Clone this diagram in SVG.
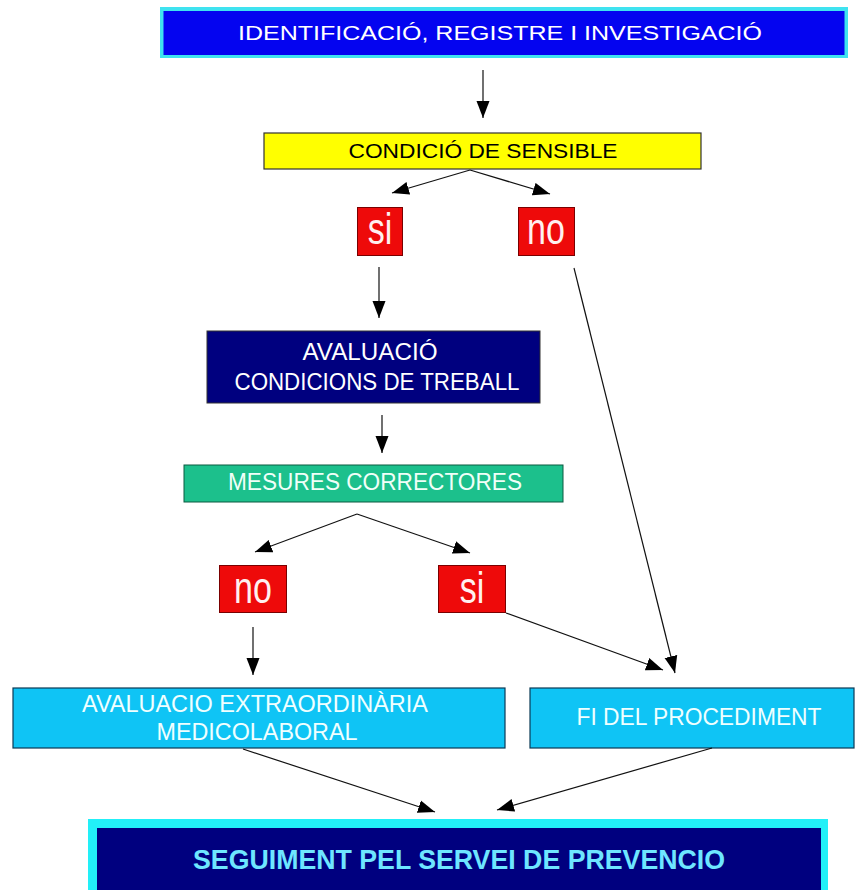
<svg xmlns="http://www.w3.org/2000/svg" width="858" height="890" viewBox="0 0 858 890">
<defs>
<marker id="ah" markerUnits="userSpaceOnUse" markerWidth="18" markerHeight="14" refX="17" refY="7" orient="auto">
<path d="M0,0.5 L17,7 L0,13.5 Z" fill="#000"/>
</marker>
<style>
.t{font-family:"Liberation Sans",Arial,sans-serif;text-anchor:middle}
.c{fill:none;stroke:#111;stroke-width:1.2;marker-end:url(#ah)}
.red{fill:#EE0A0A;stroke:#7a0000;stroke-width:1}
.sky{fill:#0FC4F5;stroke:#0a3a55;stroke-width:1.2}
.yn{font-size:34px;fill:#fff0f0}
</style>
</defs>
<rect width="858" height="890" fill="#fff"/>

<g id="identificacio">
<rect x="160" y="7" width="688" height="51" fill="#3FE3F0"/>
<rect x="163.5" y="11" width="681" height="44" fill="#0404F0"/>
<text class="t" x="500" y="40" font-size="20" fill="#fff" textLength="524" lengthAdjust="spacingAndGlyphs">IDENTIFICACIÓ, REGISTRE I INVESTIGACIÓ</text>
</g>

<g id="condicio">
<rect x="264" y="133" width="437" height="36" fill="#FFFF00" stroke="#333" stroke-width="1.2"/>
<text class="t" x="483" y="158" font-size="20" fill="#000" textLength="269" lengthAdjust="spacingAndGlyphs">CONDICIÓ DE SENSIBLE</text>
</g>

<g id="si1">
<rect class="red" x="357.5" y="207.5" width="45" height="48"/>
<text class="t yn" x="380" y="245" transform="translate(0,-70) scale(1,1.28)" >si</text>
</g>

<g id="no1">
<rect class="red" x="518.5" y="207.5" width="56" height="48"/>
<text class="t yn" x="546" y="245" transform="translate(0,-70) scale(1,1.28)">no</text>
</g>

<g id="avaluacio">
<rect x="207" y="331" width="333" height="72" fill="#00007F" stroke="#333" stroke-width="1"/>
<text class="t" x="370" y="360" font-size="23" fill="#fff" textLength="135" lengthAdjust="spacingAndGlyphs">AVALUACIÓ</text>
<text class="t" x="377" y="390" font-size="23" fill="#fff" textLength="285" lengthAdjust="spacingAndGlyphs">CONDICIONS DE TREBALL</text>
</g>

<g id="mesures">
<rect x="184" y="465" width="379" height="37" fill="#1CC08C" stroke="#0b5a40" stroke-width="1"/>
<text class="t" x="375" y="490" font-size="23" fill="#F0FFF8" textLength="294" lengthAdjust="spacingAndGlyphs">MESURES CORRECTORES</text>
</g>

<g id="no2">
<rect class="red" x="219.5" y="565.5" width="67" height="47"/>
<text class="t yn" x="253" y="603" transform="translate(0,-169) scale(1,1.28)">no</text>
</g>

<g id="si2">
<rect class="red" x="438.5" y="565.5" width="67" height="47"/>
<text class="t yn" x="472" y="603" transform="translate(0,-169) scale(1,1.28)">si</text>
</g>

<g id="extraordinaria">
<rect class="sky" x="13" y="688" width="492" height="60"/>
<text class="t" x="255" y="712" font-size="23.5" fill="#F0FFFF" textLength="346" lengthAdjust="spacingAndGlyphs">AVALUACIO EXTRAORDINÀRIA</text>
<text class="t" x="257" y="740" font-size="23.5" fill="#F0FFFF" textLength="201" lengthAdjust="spacingAndGlyphs">MEDICOLABORAL</text>
</g>

<g id="fi">
<rect class="sky" x="530" y="688" width="324" height="60"/>
<text class="t" x="699" y="725" font-size="23" fill="#F0FFFF" textLength="245" lengthAdjust="spacingAndGlyphs">FI DEL PROCEDIMENT</text>
</g>

<g id="seguiment">
<rect x="88" y="819" width="740" height="75" fill="#22F0F8"/>
<rect x="97" y="828" width="724" height="66" fill="#00007F"/>
<text class="t" x="459" y="869" font-size="28" font-weight="bold" fill="#6EE6FF" textLength="532" lengthAdjust="spacingAndGlyphs">SEGUIMENT PEL SERVEI DE PREVENCIO</text>
</g>

<g id="connectors">
<line class="c" x1="483" y1="70" x2="483" y2="118"/>
<line class="c" x1="470" y1="170" x2="392" y2="193"/>
<line class="c" x1="470" y1="170" x2="550" y2="194"/>
<line class="c" x1="379" y1="267" x2="379" y2="318"/>
<line class="c" x1="382" y1="415" x2="382" y2="453"/>
<line class="c" x1="357" y1="514" x2="255" y2="552"/>
<line class="c" x1="357" y1="514" x2="470" y2="553"/>
<line class="c" x1="574" y1="268" x2="675" y2="673"/>
<line class="c" x1="506" y1="613" x2="663" y2="670"/>
<line class="c" x1="253" y1="627" x2="253" y2="675"/>
<line class="c" x1="243" y1="749" x2="435" y2="812"/>
<line class="c" x1="712" y1="748" x2="497" y2="810"/>
</g>
</svg>
